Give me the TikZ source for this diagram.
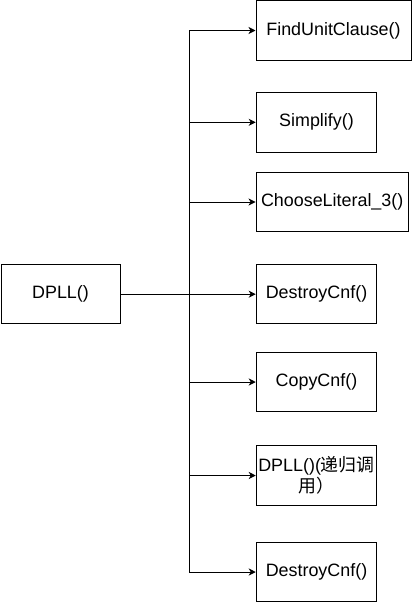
\documentclass[tikz,border=0pt]{standalone}
\usepackage{fontspec}
\setmainfont{Liberation Sans}
\newfontfamily\cjk{Noto Sans CJK SC}
\usetikzlibrary{arrows.meta}
\begin{document}
\begin{tikzpicture}[x=1pt,y=-1pt,
  box/.style={draw=black,line width=1pt,rectangle,minimum height=59.5pt,inner sep=0pt,align=center,
    font=\fontsize{17.9}{20.5}\selectfont},
  arr/.style={draw=black,line width=1pt,-{Stealth[length=7pt,width=7pt,inset=2pt]}}]
\useasboundingbox (0,0) rectangle (412,603);
\node[box,minimum width=119pt] (dpll) at (60.5,294) {DPLL()};
\node[box,minimum width=155pt] (f1) at (333.5,30.5) {FindUnitClause()};
\node[box,minimum width=120.5pt] (f2) at (316.5,122.3) {Simplify()};
\node[box,minimum width=152.3pt] (f3) at (332.2,202) {ChooseLiteral\_3()};
\node[box,minimum width=120.5pt] (f4) at (316.5,294.2) {DestroyCnf()};
\node[box,minimum width=120.5pt] (f5) at (316.5,382) {CopyCnf()};
\node[box,minimum width=120.5pt] (f6) at (316.5,475.5) {DPLL()({\cjk 递归调}\\{\cjk 用）}};
\node[box,minimum width=120.5pt] (f7) at (316.5,572) {DestroyCnf()};
\coordinate (j) at (189,294);
\draw[line width=1pt] (dpll.east) -- (j);
\foreach \t in {f1,f2,f3,f4,f5,f6,f7}{
  \draw[arr] (j) |- (\t.west);
}
\end{tikzpicture}
\end{document}
